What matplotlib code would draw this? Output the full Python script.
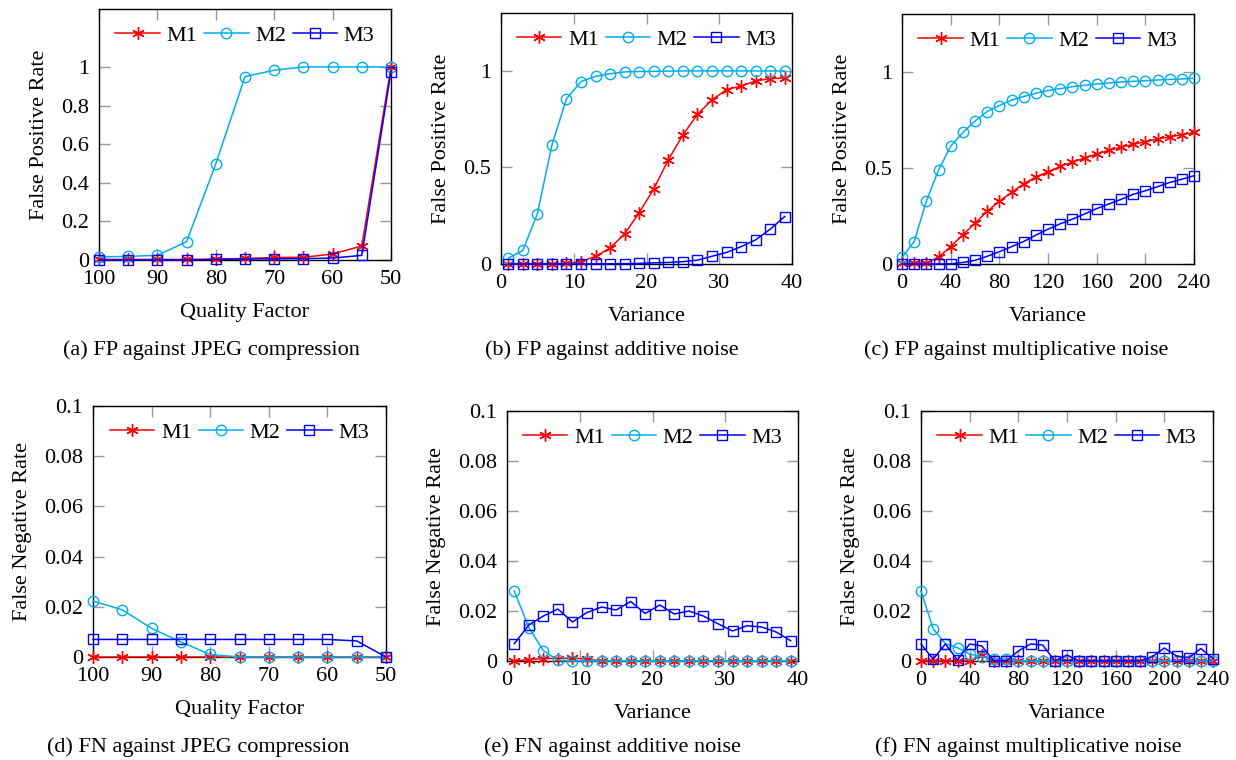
import numpy as np
import matplotlib
matplotlib.use("Agg")
import matplotlib.pyplot as plt

plt.rcParams['font.family'] = ['Liberation Serif', 'DejaVu Serif']
plt.rcParams['mathtext.fontset'] = 'stix'

# ---- data ----
q = [100, 95, 90, 85, 80, 75, 70, 65, 60, 55, 50]
v_add = list(range(1, 40, 2))
v_mul = list(range(0, 241, 10))

# (a) FP, JPEG
fp_jpeg_m1 = [0.003, 0.003, 0.003, 0.003, 0.005, 0.008, 0.013, 0.014, 0.031, 0.073, 1.0]
fp_jpeg_m2 = [0.016, 0.019, 0.024, 0.095, 0.498, 0.95, 0.983, 1.0, 1.0, 1.0, 1.0]
fp_jpeg_m3 = [0.0, 0.0, 0.0, 0.0, 0.003, 0.005, 0.006, 0.007, 0.01, 0.024, 0.976]

# (b) FP, additive noise
fp_add_m1 = [0.002, 0.002, 0.002, 0.002, 0.003, 0.012, 0.04, 0.083, 0.156, 0.266,
             0.389, 0.54, 0.668, 0.775, 0.85, 0.903, 0.922, 0.948, 0.96, 0.964]
fp_add_m2 = [0.03, 0.07, 0.26, 0.616, 0.856, 0.945, 0.972, 0.986, 0.995, 0.997,
             0.998, 0.999, 1.0, 1.0, 1.0, 1.0, 1.0, 1.0, 1.0, 1.0]
fp_add_m3 = [0.0, 0.0, 0.0, 0.0, 0.0, 0.0, 0.001, 0.001, 0.002, 0.003,
             0.006, 0.008, 0.012, 0.02, 0.04, 0.06, 0.09, 0.125, 0.18, 0.246]

# (c) FP, multiplicative noise
fp_mul_m1 = [0.003, 0.003, 0.005, 0.036, 0.09, 0.152, 0.212, 0.274, 0.326, 0.372,
             0.417, 0.453, 0.479, 0.508, 0.529, 0.552, 0.572, 0.591, 0.607, 0.622,
             0.636, 0.65, 0.662, 0.672, 0.684]
fp_mul_m2 = [0.034, 0.117, 0.326, 0.488, 0.612, 0.684, 0.743, 0.793, 0.824, 0.852,
             0.871, 0.888, 0.902, 0.912, 0.922, 0.929, 0.936, 0.941, 0.947, 0.95,
             0.953, 0.957, 0.96, 0.962, 0.966]
fp_mul_m3 = [0.0, 0.0, 0.0, 0.0, 0.001, 0.008, 0.019, 0.04, 0.064, 0.09,
             0.117, 0.15, 0.181, 0.209, 0.233, 0.26, 0.288, 0.312, 0.336, 0.362,
             0.381, 0.402, 0.424, 0.441, 0.459]

# (d) FN, JPEG
fn_jpeg_m1 = [0.0] * 11
fn_jpeg_m2 = [0.0223, 0.0188, 0.0114, 0.006, 0.001, 0, 0, 0, 0, 0, 0]
fn_jpeg_m3 = [0.007, 0.007, 0.007, 0.007, 0.007, 0.007, 0.007, 0.007, 0.007, 0.0064, 0.0]

# (e) FN, additive noise
fn_add_m1 = [0.0, 0.0005, 0.001, 0.001, 0.0012, 0.0008, 0, 0, 0, 0,
             0, 0, 0, 0, 0, 0, 0, 0, 0, 0]
fn_add_m2 = [0.028, 0.0134, 0.0041, 0.0003, 0, 0, 0, 0, 0, 0,
             0, 0, 0, 0, 0, 0, 0, 0, 0, 0]
fn_add_m3 = [0.0069, 0.0144, 0.018, 0.0208, 0.0156, 0.0194, 0.0216, 0.0204, 0.0238, 0.019,
             0.0224, 0.0188, 0.02, 0.018, 0.0149, 0.012, 0.0141, 0.0136, 0.0116, 0.0081]

# (f) FN, multiplicative noise
fn_mul_m1 = [0, 0, 0, 0, 0, 0.0025, 0, 0, 0, 0, 0, 0, 0, 0, 0, 0, 0, 0, 0, 0, 0, 0, 0, 0, 0]
fn_mul_m2 = [0.028, 0.0129, 0.007, 0.0053, 0.0028, 0.0017, 0.001, 0.0008, 0, 0,
             0, 0, 0, 0, 0, 0, 0, 0, 0, 0, 0, 0, 0, 0, 0]
fn_mul_m3 = [0.0068, 0.0007, 0.0068, 0.0004, 0.0068, 0.006, 0, 0, 0.004, 0.0068,
             0.0064, 0, 0.0024, 0, 0, 0, 0, 0, 0, 0.0017, 0.0052, 0.002, 0.0013, 0.005, 0.001]

xticks_q = [100, 90, 80, 70, 60, 50]
xticks_add = [0, 10, 20, 30, 40]
xticks_mul = [0, 40, 80, 120, 160, 200, 240]

captions = ["(a) FP against JPEG compression", "(b) FP against additive noise",
            "(c) FP against multiplicative noise", "(d) FN against JPEG compression",
            "(e) FN against additive noise", "(f) FN against multiplicative noise"]

# ---- layout in pixels ----
W, H = 1236, 760
boxes = [(99, 9, 391, 260), (501, 13, 792, 264), (902, 14, 1194, 264),
         (93, 406, 386, 657), (507, 411, 798, 661), (921, 411, 1213, 661)]
cap_pos = [(211, 350), (612, 350), (1016, 350), (198, 747), (612, 747), (1028, 747)]

RED = '#ff0000'
CYAN = '#00aeef'
BLUE = '#0000ff'
ASTER = (6, 2, 0)  # six-armed asterisk like pgfplots '*'

fig = plt.figure(figsize=(W / 100., H / 100.), dpi=100)

panels = [
    (q, fp_jpeg_m1, fp_jpeg_m2, fp_jpeg_m3, xticks_q, (100, 50), 'Quality Factor', 'False Positive Rate', (0, 1.3), [0, 0.2, 0.4, 0.6, 0.8, 1]),
    (v_add, fp_add_m1, fp_add_m2, fp_add_m3, xticks_add, (0, 40), 'Variance', 'False Positive Rate', (0, 1.3), [0, 0.5, 1]),
    (v_mul, fp_mul_m1, fp_mul_m2, fp_mul_m3, xticks_mul, (0, 240), 'Variance', 'False Positive Rate', (0, 1.3), [0, 0.5, 1]),
    (q, fn_jpeg_m1, fn_jpeg_m2, fn_jpeg_m3, xticks_q, (100, 50), 'Quality Factor', 'False Negative Rate', (0, 0.1), [0, 0.02, 0.04, 0.06, 0.08, 0.1]),
    (v_add, fn_add_m1, fn_add_m2, fn_add_m3, xticks_add, (0, 40), 'Variance', 'False Negative Rate', (0, 0.1), [0, 0.02, 0.04, 0.06, 0.08, 0.1]),
    (v_mul, fn_mul_m1, fn_mul_m2, fn_mul_m3, xticks_mul, (0, 240), 'Variance', 'False Negative Rate', (0, 0.1), [0, 0.02, 0.04, 0.06, 0.08, 0.1]),
]


def fmt(t):
    if t == 0:
        return '0'
    if t == 1:
        return '1'
    return ('%g' % t)


for i, (x, m1, m2, m3, xt, xl, xlab, ylab, yl, yt) in enumerate(panels):
    l, t, r, b = boxes[i]
    ax = fig.add_axes([l / W, 1 - b / H, (r - l) / W, (b - t) / H])
    ax.plot(x, m1, color=RED, marker=ASTER, markersize=9, lw=1.1, label='M1', clip_on=False, zorder=3,
            markeredgewidth=1.0)
    ax.plot(x, m2, color=CYAN, marker='o', markersize=7.5, lw=1.1, label='M2', clip_on=False, zorder=3,
            markerfacecolor='none', markeredgewidth=1.0)
    ax.plot(x, m3, color=BLUE, marker='s', markersize=7.5, lw=1.1, label='M3', clip_on=False, zorder=3,
            markerfacecolor='none', markeredgewidth=1.0)
    ax.set_xlim(*xl)
    ax.set_ylim(*yl)
    ax.set_xticks(xt)
    ax.set_yticks(yt)
    ax.set_yticklabels([fmt(v) for v in yt])
    ax.tick_params(direction='in', length=8, width=1, color='#999999', top=True, right=True,
                   labelsize=16, pad=7)
    for s in ax.spines.values():
        s.set_linewidth(1.0)
    ax.set_xlabel(xlab, fontsize=16, labelpad=10)
    ax.set_ylabel(ylab, fontsize=16, labelpad=9)
    ax.legend(loc='upper center', bbox_to_anchor=(0.5, 1.0), ncol=3, frameon=False, fontsize=16,
              handlelength=2.0, handletextpad=0.3, columnspacing=0.3, borderaxespad=0.35)
    cx, cy = cap_pos[i]
    fig.text(cx / W, 1 - cy / H, captions[i], ha='center', va='center', fontsize=16)

fig.savefig('out.png', dpi=100)
